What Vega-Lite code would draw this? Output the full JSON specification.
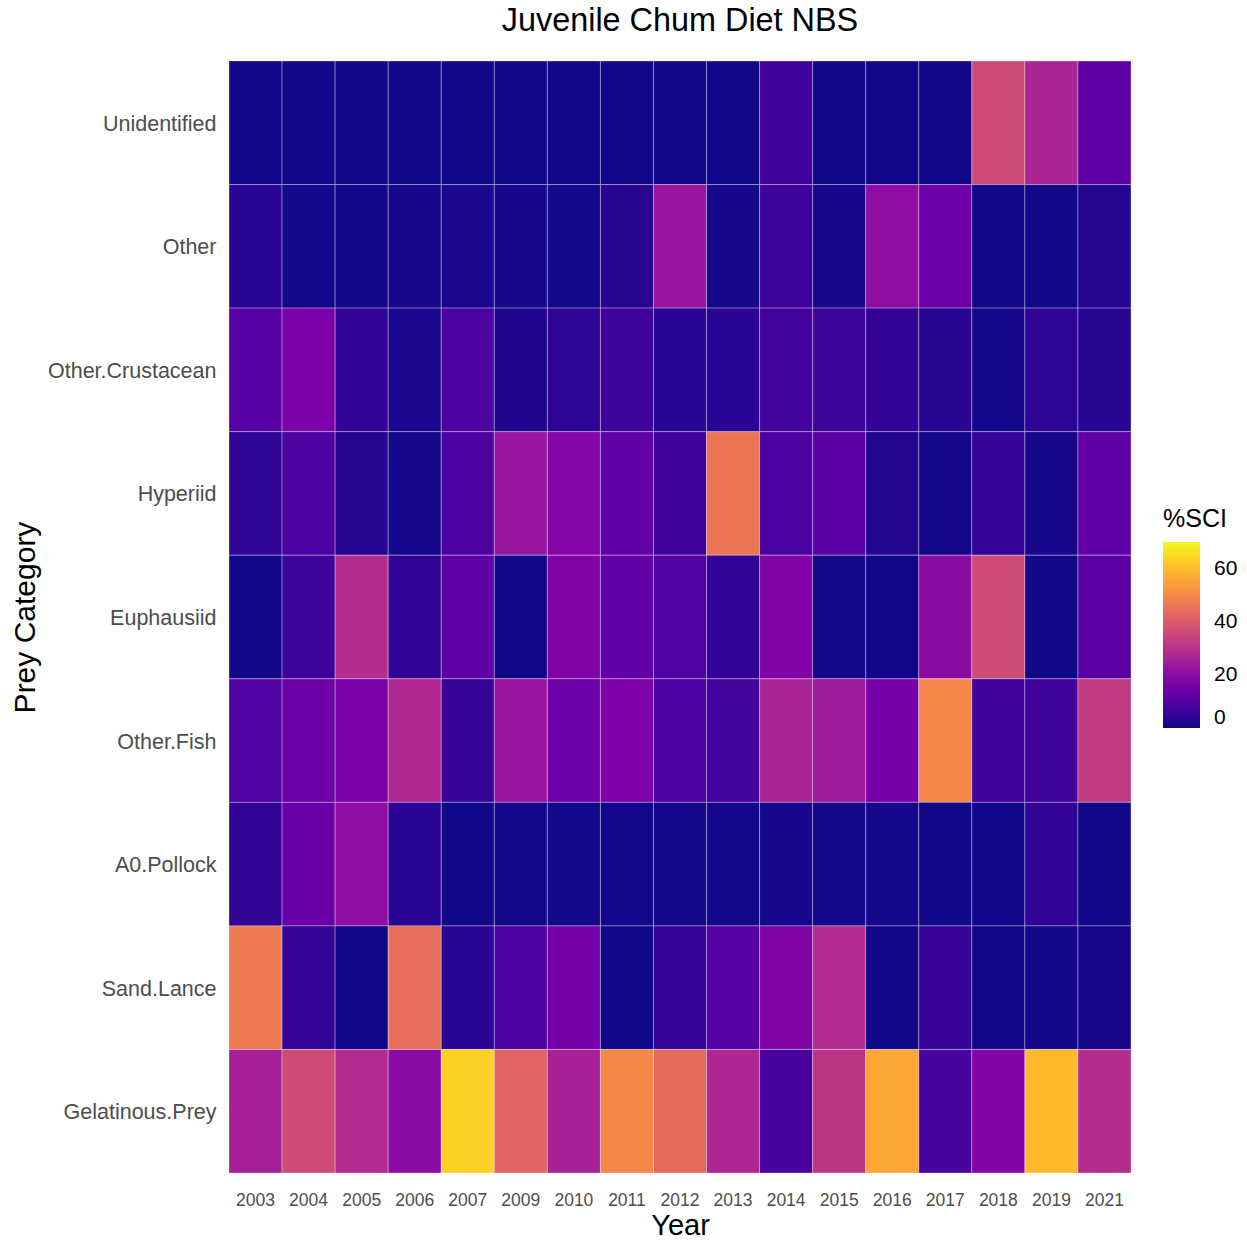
{
  "$schema": "https://vega.github.io/schema/vega-lite/v6.json",
  "width": 902,
  "height": 1112,
  "autosize": {"type": "none"},
  "padding": {"left": 229, "top": 61, "right": 116, "bottom": 69},
  "background": "white",
  "title": {"text": "Juvenile Chum Diet NBS", "fontSize": 32.4, "font": "Liberation Sans", "fontWeight": "normal", "color": "black", "anchor": "middle", "offset": 23},
  "config": {"view": {"stroke": null}, "font": "Liberation Sans"},
  "datasets": {
    "diet": [
      {"Year": "2003", "Prey": "Unidentified", "SCI": 0.3},
      {"Year": "2004", "Prey": "Unidentified", "SCI": 0.3},
      {"Year": "2005", "Prey": "Unidentified", "SCI": 0.3},
      {"Year": "2006", "Prey": "Unidentified", "SCI": 0.3},
      {"Year": "2007", "Prey": "Unidentified", "SCI": 0.3},
      {"Year": "2009", "Prey": "Unidentified", "SCI": 0.3},
      {"Year": "2010", "Prey": "Unidentified", "SCI": 0.3},
      {"Year": "2011", "Prey": "Unidentified", "SCI": 0.3},
      {"Year": "2012", "Prey": "Unidentified", "SCI": 0.3},
      {"Year": "2013", "Prey": "Unidentified", "SCI": 0.3},
      {"Year": "2014", "Prey": "Unidentified", "SCI": 7},
      {"Year": "2015", "Prey": "Unidentified", "SCI": 0.3},
      {"Year": "2016", "Prey": "Unidentified", "SCI": 0.3},
      {"Year": "2017", "Prey": "Unidentified", "SCI": 0.3},
      {"Year": "2018", "Prey": "Unidentified", "SCI": 36},
      {"Year": "2019", "Prey": "Unidentified", "SCI": 26.5},
      {"Year": "2021", "Prey": "Unidentified", "SCI": 12},

      {"Year": "2003", "Prey": "Other", "SCI": 3.5},
      {"Year": "2004", "Prey": "Other", "SCI": 0.5},
      {"Year": "2005", "Prey": "Other", "SCI": 0.3},
      {"Year": "2006", "Prey": "Other", "SCI": 1},
      {"Year": "2007", "Prey": "Other", "SCI": 1.5},
      {"Year": "2009", "Prey": "Other", "SCI": 1},
      {"Year": "2010", "Prey": "Other", "SCI": 0.7},
      {"Year": "2011", "Prey": "Other", "SCI": 3},
      {"Year": "2012", "Prey": "Other", "SCI": 23},
      {"Year": "2013", "Prey": "Other", "SCI": 1},
      {"Year": "2014", "Prey": "Other", "SCI": 6.5},
      {"Year": "2015", "Prey": "Other", "SCI": 1},
      {"Year": "2016", "Prey": "Other", "SCI": 21},
      {"Year": "2017", "Prey": "Other", "SCI": 14.5},
      {"Year": "2018", "Prey": "Other", "SCI": 0.3},
      {"Year": "2019", "Prey": "Other", "SCI": 0.3},
      {"Year": "2021", "Prey": "Other", "SCI": 2.5},

      {"Year": "2003", "Prey": "Other.Crustacean", "SCI": 10.5},
      {"Year": "2004", "Prey": "Other.Crustacean", "SCI": 17},
      {"Year": "2005", "Prey": "Other.Crustacean", "SCI": 4.5},
      {"Year": "2006", "Prey": "Other.Crustacean", "SCI": 1.5},
      {"Year": "2007", "Prey": "Other.Crustacean", "SCI": 8.5},
      {"Year": "2009", "Prey": "Other.Crustacean", "SCI": 2},
      {"Year": "2010", "Prey": "Other.Crustacean", "SCI": 4},
      {"Year": "2011", "Prey": "Other.Crustacean", "SCI": 6.5},
      {"Year": "2012", "Prey": "Other.Crustacean", "SCI": 3.5},
      {"Year": "2013", "Prey": "Other.Crustacean", "SCI": 3.5},
      {"Year": "2014", "Prey": "Other.Crustacean", "SCI": 7.5},
      {"Year": "2015", "Prey": "Other.Crustacean", "SCI": 6.5},
      {"Year": "2016", "Prey": "Other.Crustacean", "SCI": 4.5},
      {"Year": "2017", "Prey": "Other.Crustacean", "SCI": 3},
      {"Year": "2018", "Prey": "Other.Crustacean", "SCI": 0.8},
      {"Year": "2019", "Prey": "Other.Crustacean", "SCI": 4},
      {"Year": "2021", "Prey": "Other.Crustacean", "SCI": 3},

      {"Year": "2003", "Prey": "Hyperiid", "SCI": 4},
      {"Year": "2004", "Prey": "Hyperiid", "SCI": 8.5},
      {"Year": "2005", "Prey": "Hyperiid", "SCI": 2.5},
      {"Year": "2006", "Prey": "Hyperiid", "SCI": 1},
      {"Year": "2007", "Prey": "Hyperiid", "SCI": 8.5},
      {"Year": "2009", "Prey": "Hyperiid", "SCI": 23},
      {"Year": "2010", "Prey": "Hyperiid", "SCI": 19},
      {"Year": "2011", "Prey": "Hyperiid", "SCI": 12.5},
      {"Year": "2012", "Prey": "Hyperiid", "SCI": 7},
      {"Year": "2013", "Prey": "Hyperiid", "SCI": 46},
      {"Year": "2014", "Prey": "Hyperiid", "SCI": 8.5},
      {"Year": "2015", "Prey": "Hyperiid", "SCI": 11},
      {"Year": "2016", "Prey": "Hyperiid", "SCI": 2.5},
      {"Year": "2017", "Prey": "Hyperiid", "SCI": 0.7},
      {"Year": "2018", "Prey": "Hyperiid", "SCI": 5},
      {"Year": "2019", "Prey": "Hyperiid", "SCI": 1},
      {"Year": "2021", "Prey": "Hyperiid", "SCI": 13},

      {"Year": "2003", "Prey": "Euphausiid", "SCI": 0.2},
      {"Year": "2004", "Prey": "Euphausiid", "SCI": 6.5},
      {"Year": "2005", "Prey": "Euphausiid", "SCI": 28.5},
      {"Year": "2006", "Prey": "Euphausiid", "SCI": 4.5},
      {"Year": "2007", "Prey": "Euphausiid", "SCI": 12},
      {"Year": "2009", "Prey": "Euphausiid", "SCI": 0.2},
      {"Year": "2010", "Prey": "Euphausiid", "SCI": 18},
      {"Year": "2011", "Prey": "Euphausiid", "SCI": 12.5},
      {"Year": "2012", "Prey": "Euphausiid", "SCI": 9.5},
      {"Year": "2013", "Prey": "Euphausiid", "SCI": 4.5},
      {"Year": "2014", "Prey": "Euphausiid", "SCI": 18},
      {"Year": "2015", "Prey": "Euphausiid", "SCI": 0.7},
      {"Year": "2016", "Prey": "Euphausiid", "SCI": 0.3},
      {"Year": "2017", "Prey": "Euphausiid", "SCI": 20.5},
      {"Year": "2018", "Prey": "Euphausiid", "SCI": 36},
      {"Year": "2019", "Prey": "Euphausiid", "SCI": 0.6},
      {"Year": "2021", "Prey": "Euphausiid", "SCI": 11},

      {"Year": "2003", "Prey": "Other.Fish", "SCI": 9.5},
      {"Year": "2004", "Prey": "Other.Fish", "SCI": 14.5},
      {"Year": "2005", "Prey": "Other.Fish", "SCI": 17},
      {"Year": "2006", "Prey": "Other.Fish", "SCI": 27.5},
      {"Year": "2007", "Prey": "Other.Fish", "SCI": 5},
      {"Year": "2009", "Prey": "Other.Fish", "SCI": 23},
      {"Year": "2010", "Prey": "Other.Fish", "SCI": 14.5},
      {"Year": "2011", "Prey": "Other.Fish", "SCI": 17.5},
      {"Year": "2012", "Prey": "Other.Fish", "SCI": 8.5},
      {"Year": "2013", "Prey": "Other.Fish", "SCI": 7.5},
      {"Year": "2014", "Prey": "Other.Fish", "SCI": 26.5},
      {"Year": "2015", "Prey": "Other.Fish", "SCI": 24},
      {"Year": "2016", "Prey": "Other.Fish", "SCI": 16},
      {"Year": "2017", "Prey": "Other.Fish", "SCI": 49.5},
      {"Year": "2018", "Prey": "Other.Fish", "SCI": 7},
      {"Year": "2019", "Prey": "Other.Fish", "SCI": 6.5},
      {"Year": "2021", "Prey": "Other.Fish", "SCI": 32},

      {"Year": "2003", "Prey": "A0.Pollock", "SCI": 4.5},
      {"Year": "2004", "Prey": "A0.Pollock", "SCI": 14},
      {"Year": "2005", "Prey": "A0.Pollock", "SCI": 21},
      {"Year": "2006", "Prey": "A0.Pollock", "SCI": 3.5},
      {"Year": "2007", "Prey": "A0.Pollock", "SCI": 0.3},
      {"Year": "2009", "Prey": "A0.Pollock", "SCI": 0.5},
      {"Year": "2010", "Prey": "A0.Pollock", "SCI": 0.5},
      {"Year": "2011", "Prey": "A0.Pollock", "SCI": 0.5},
      {"Year": "2012", "Prey": "A0.Pollock", "SCI": 0.5},
      {"Year": "2013", "Prey": "A0.Pollock", "SCI": 0.5},
      {"Year": "2014", "Prey": "A0.Pollock", "SCI": 1},
      {"Year": "2015", "Prey": "A0.Pollock", "SCI": 0.7},
      {"Year": "2016", "Prey": "A0.Pollock", "SCI": 0.7},
      {"Year": "2017", "Prey": "A0.Pollock", "SCI": 0.3},
      {"Year": "2018", "Prey": "A0.Pollock", "SCI": 0.3},
      {"Year": "2019", "Prey": "A0.Pollock", "SCI": 4.5},
      {"Year": "2021", "Prey": "A0.Pollock", "SCI": 0.3},

      {"Year": "2003", "Prey": "Sand.Lance", "SCI": 47},
      {"Year": "2004", "Prey": "Sand.Lance", "SCI": 5},
      {"Year": "2005", "Prey": "Sand.Lance", "SCI": 0.2},
      {"Year": "2006", "Prey": "Sand.Lance", "SCI": 44},
      {"Year": "2007", "Prey": "Sand.Lance", "SCI": 3.5},
      {"Year": "2009", "Prey": "Sand.Lance", "SCI": 8.5},
      {"Year": "2010", "Prey": "Sand.Lance", "SCI": 16},
      {"Year": "2011", "Prey": "Sand.Lance", "SCI": 0.2},
      {"Year": "2012", "Prey": "Sand.Lance", "SCI": 5},
      {"Year": "2013", "Prey": "Sand.Lance", "SCI": 10},
      {"Year": "2014", "Prey": "Sand.Lance", "SCI": 18},
      {"Year": "2015", "Prey": "Sand.Lance", "SCI": 28},
      {"Year": "2016", "Prey": "Sand.Lance", "SCI": 0.3},
      {"Year": "2017", "Prey": "Sand.Lance", "SCI": 5.5},
      {"Year": "2018", "Prey": "Sand.Lance", "SCI": 0.3},
      {"Year": "2019", "Prey": "Sand.Lance", "SCI": 0.6},
      {"Year": "2021", "Prey": "Sand.Lance", "SCI": 1},

      {"Year": "2003", "Prey": "Gelatinous.Prey", "SCI": 25.5},
      {"Year": "2004", "Prey": "Gelatinous.Prey", "SCI": 36},
      {"Year": "2005", "Prey": "Gelatinous.Prey", "SCI": 28},
      {"Year": "2006", "Prey": "Gelatinous.Prey", "SCI": 20.5},
      {"Year": "2007", "Prey": "Gelatinous.Prey", "SCI": 63.5},
      {"Year": "2009", "Prey": "Gelatinous.Prey", "SCI": 42},
      {"Year": "2010", "Prey": "Gelatinous.Prey", "SCI": 26},
      {"Year": "2011", "Prey": "Gelatinous.Prey", "SCI": 50},
      {"Year": "2012", "Prey": "Gelatinous.Prey", "SCI": 43.5},
      {"Year": "2013", "Prey": "Gelatinous.Prey", "SCI": 27},
      {"Year": "2014", "Prey": "Gelatinous.Prey", "SCI": 8},
      {"Year": "2015", "Prey": "Gelatinous.Prey", "SCI": 30.5},
      {"Year": "2016", "Prey": "Gelatinous.Prey", "SCI": 56},
      {"Year": "2017", "Prey": "Gelatinous.Prey", "SCI": 8},
      {"Year": "2018", "Prey": "Gelatinous.Prey", "SCI": 18.5},
      {"Year": "2019", "Prey": "Gelatinous.Prey", "SCI": 59.5},
      {"Year": "2021", "Prey": "Gelatinous.Prey", "SCI": 29}
    ]
  },
  "data": {"name": "diet"},
  "mark": {"type": "rect", "stroke": "white", "strokeWidth": 0.7, "strokeOpacity": 0.45},
  "encoding": {
    "x": {
      "field": "Year", "type": "ordinal",
      "scale": {"paddingInner": 0, "paddingOuter": 0},
      "axis": {"title": "Year", "titleFontSize": 29, "titleFontWeight": "normal", "titleColor": "black", "titlePadding": 3,
               "labelFontSize": 17.5, "labelColor": "#4d4d4d", "labelPadding": 18, "labelAngle": 0,
               "ticks": false, "domain": false, "grid": false}
    },
    "y": {
      "field": "Prey", "type": "nominal",
      "sort": ["Unidentified", "Other", "Other.Crustacean", "Hyperiid", "Euphausiid", "Other.Fish", "A0.Pollock", "Sand.Lance", "Gelatinous.Prey"],
      "scale": {"paddingInner": 0, "paddingOuter": 0},
      "axis": {"title": "Prey Category", "titleFontSize": 30, "titleFontWeight": "normal", "titleColor": "black", "titlePadding": 7,
               "labelFontSize": 21.5, "labelColor": "#4d4d4d", "labelPadding": 13, "labelBaseline": "middle", "labelOffset": 2,
               "ticks": false, "domain": false, "grid": false}
    },
    "fill": {
      "field": "SCI", "type": "quantitative",
      "scale": {"scheme": "plasma", "domain": [0, 70]},
      "legend": {"title": "%SCI", "titleFontSize": 25, "titleFontWeight": "normal", "titleColor": "black", "titlePadding": 10,
                 "labelFontSize": 21, "labelColor": "black", "labelOffset": 14,
                 "gradientLength": 186, "gradientThickness": 37, "gradientStrokeWidth": 0,
                 "values": [0, 20, 40, 60], "orient": "none", "legendX": 934, "legendY": 446}
    }
  }
}
